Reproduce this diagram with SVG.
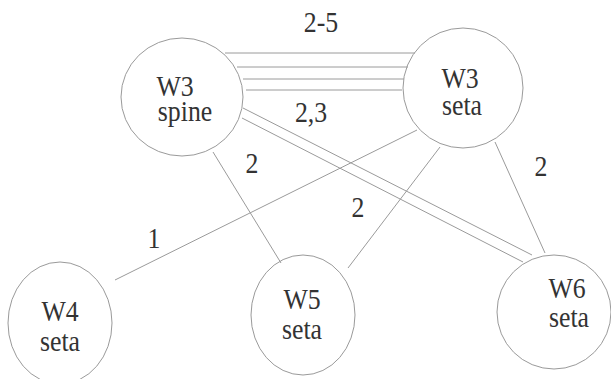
<svg xmlns="http://www.w3.org/2000/svg" width="611" height="379" viewBox="0 0 611 379">
<style>
.n{fill:none;stroke:#9a9a9a;stroke-width:1}
.c line{stroke:#9a9a9a;stroke-width:1}
text{font-family:"Liberation Serif","Times New Roman",serif;font-size:30px;fill:#333;text-anchor:middle}
</style>
<rect width="611" height="379" fill="#fff"/>
<g id="connectors" class="c">
<line x1="225" y1="53" x2="415" y2="53"/>
<line x1="237" y1="67" x2="408" y2="67"/>
<line x1="243" y1="79" x2="404" y2="79"/>
<line x1="246" y1="90" x2="402" y2="90"/>
<line x1="243" y1="108" x2="532" y2="255"/>
<line x1="242" y1="118" x2="523" y2="262"/>
<line x1="213" y1="152" x2="281" y2="263"/>
<line x1="115" y1="280" x2="417" y2="130"/>
<line x1="440" y1="147" x2="348" y2="268"/>
<line x1="495" y1="142" x2="545" y2="253"/>
<text transform="translate(321,32) scale(0.86,1)">2-5</text>
<text transform="translate(311,122) scale(0.86,1)">2,3</text>
<text transform="translate(252,173) scale(0.86,1)">2</text>
<text transform="translate(358,217) scale(0.86,1)">2</text>
<text transform="translate(154,248) scale(0.86,1)">1</text>
<text transform="translate(541,176) scale(0.86,1)">2</text>
</g>
<g id="w3spine">
<ellipse class="n" cx="182" cy="97" rx="61" ry="59"/>
<text transform="translate(175,96) scale(0.86,1)">W3</text>
<text transform="translate(185,121) scale(0.86,1)">spine</text>
</g>
<g id="w3seta">
<ellipse class="n" cx="463" cy="88" rx="60" ry="60"/>
<text transform="translate(460,88) scale(0.86,1)">W3</text>
<text transform="translate(462,115) scale(0.86,1)">seta</text>
</g>
<g id="w4seta">
<ellipse class="n" cx="60" cy="323" rx="52" ry="61"/>
<text transform="translate(60,321) scale(0.86,1)">W4</text>
<text transform="translate(60,351) scale(0.86,1)">seta</text>
</g>
<g id="w5seta">
<ellipse class="n" cx="303" cy="315" rx="52" ry="60"/>
<text transform="translate(302,309) scale(0.86,1)">W5</text>
<text transform="translate(302,339) scale(0.86,1)">seta</text>
</g>
<g id="w6seta">
<ellipse class="n" cx="554" cy="312" rx="57" ry="57"/>
<text transform="translate(567,298) scale(0.86,1)">W6</text>
<text transform="translate(569,327) scale(0.86,1)">seta</text>
</g>
</svg>
